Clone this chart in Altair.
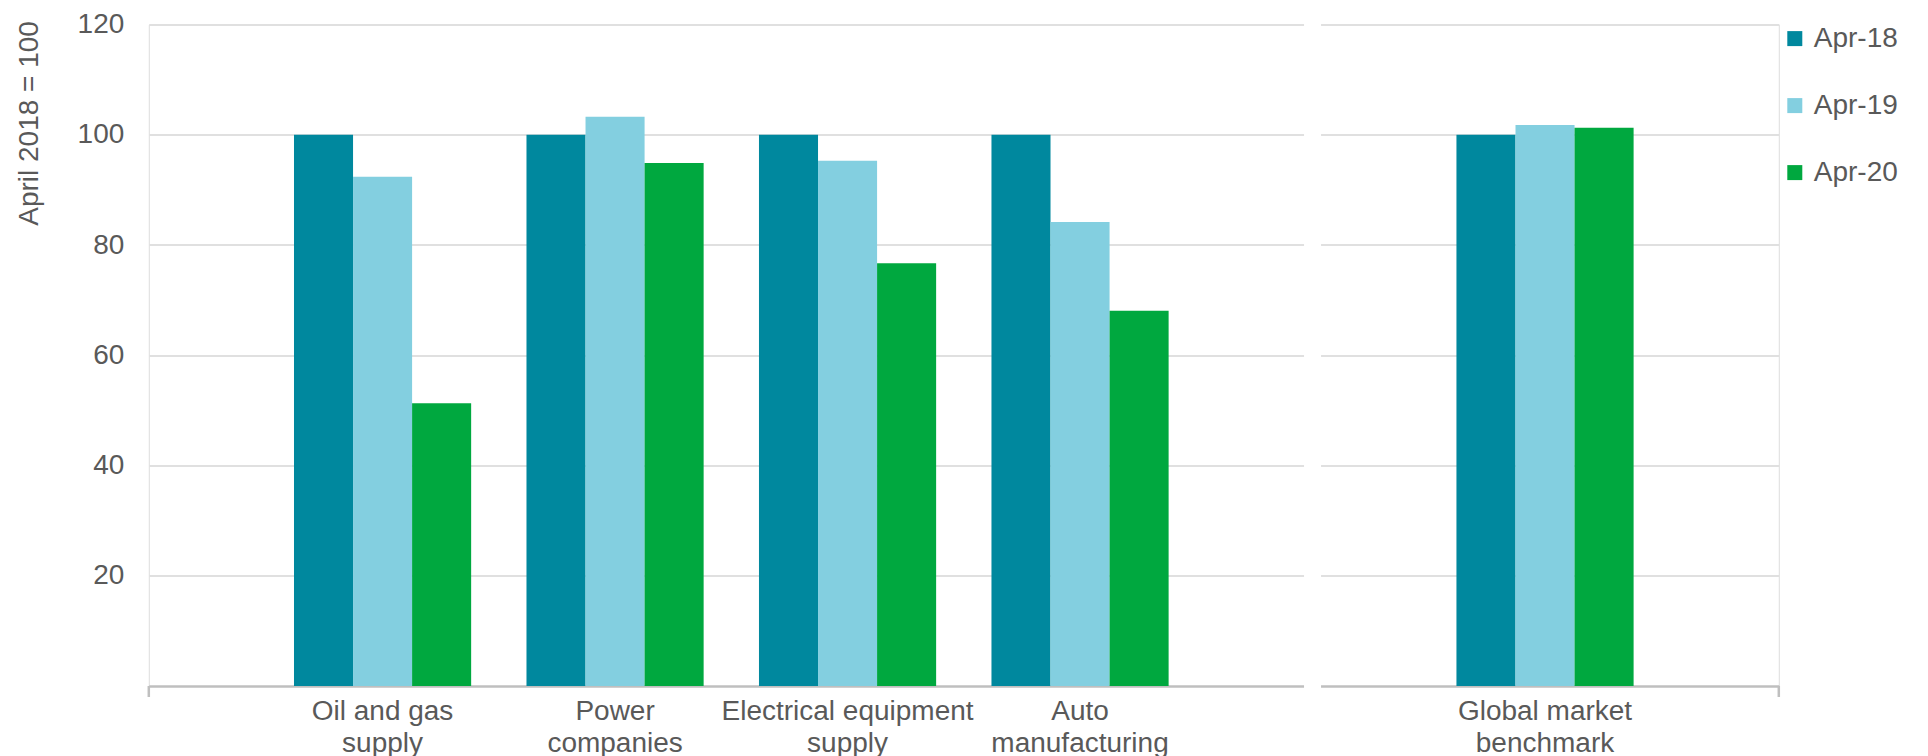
import altair as alt
import pandas as pd

categories = ["Oil and gas supply", "Power companies", "Electrical equipment supply",
              "Auto manufacturing", "Global market benchmark"]
series = ["Apr-18", "Apr-19", "Apr-20"]
apr18 = [100, 100, 100, 100, 100]
apr19 = [92.4, 103.3, 95.3, 84.2, 101.8]
apr20 = [51.3, 94.9, 76.7, 68.1, 101.3]
colors = ["#00889E", "#83CFE0", "#00A83F"]
y_ticks = [20, 40, 60, 80, 100, 120]
GAP = "gap"
x_domain = categories[:4] + [GAP] + categories[4:]

rows = []
for s, vals in zip(series, [apr18, apr19, apr20]):
    for c, v in zip(categories, vals):
        rows.append({"Category": c, "Series": s, "Value": v})
df = pd.DataFrame(rows)

W, H = 1630, 661.4
FONT = "Liberation Sans"
TXT = "#595959"

label_expr = (
    "datum.value == 'Oil and gas supply' ? ['Oil and gas', 'supply'] : "
    "datum.value == 'Power companies' ? ['Power', 'companies'] : "
    "datum.value == 'Electrical equipment supply' ? ['Electrical equipment', 'supply'] : "
    "datum.value == 'Auto manufacturing' ? ['Auto', 'manufacturing'] : "
    "datum.value == 'Global market benchmark' ? ['Global market', 'benchmark'] : ''"
)

x_enc = alt.X(
    "Category:N",
    scale=alt.Scale(domain=x_domain, paddingInner=0.238, paddingOuter=0.6245),
    sort=x_domain,
    axis=alt.Axis(title=None, labelExpr=label_expr, labelAngle=0, labelFontSize=28,
                  labelColor=TXT, labelFont=FONT, labelPadding=12, labelBaseline="top",
                  labelLineHeight=32, labelLimit=0, ticks=False, domainColor="#BFBFBF",
                  domainWidth=2.5, grid=False, zindex=0),
)

bars = alt.Chart(df).mark_bar().encode(
    x=x_enc,
    xOffset=alt.XOffset("Series:N", scale=alt.Scale(domain=series, paddingInner=0, paddingOuter=0)),
    y=alt.Y("Value:Q", scale=alt.Scale(domain=[0, 120], nice=False),
            axis=alt.Axis(values=y_ticks, title="April 2018 = 100", titleFontSize=28,
                          titleFont=FONT, titleColor=TXT, titleFontWeight="normal",
                          titleAngle=270, titleAlign="right", titleBaseline="middle",
                          titleX=-118.8, titleY=-4,
                          labelFontSize=28, labelFont=FONT, labelColor=TXT, labelPadding=25,
                          ticks=False, domain=False, gridColor="#E0E0E0", gridWidth=2)),
    color=alt.Color("Series:N", scale=alt.Scale(domain=series, range=colors),
                    legend=alt.Legend(title=None, orient="none", legendX=1632, legendY=0,
                                      symbolType="square", symbolSize=225, symbolStrokeWidth=0,
                                      labelFontSize=28, labelFont=FONT, labelColor=TXT,
                                      labelOffset=5, rowPadding=39, padding=0, labelLimit=0)),
)

gap_df = pd.DataFrame({"Category": [GAP]})
gap = alt.Chart(gap_df).mark_bar(color="white", width=17).encode(
    x=alt.X("Category:N"),
    y=alt.value(-4),
    y2=alt.value(H + 14),
)

tick_l = alt.Chart(gap_df).mark_rule(color="#BFBFBF", strokeWidth=2.5).encode(
    x=alt.value(0), y=alt.value(H), y2=alt.value(H + 11))
tick_r = alt.Chart(gap_df).mark_rule(color="#BFBFBF", strokeWidth=2.5).encode(
    x=alt.value(W), y=alt.value(H), y2=alt.value(H + 11))

chart = alt.layer(bars, gap, tick_l, tick_r).properties(
    width=W, height=H,
    autosize=alt.AutoSizeParams(type="none"),
    padding={"left": 140.8, "top": 16.6, "right": 141, "bottom": 70},
).configure_view(stroke=None).configure(font=FONT)

chart.save("out.html", embed_options={"renderer": "svg", "actions": False})
